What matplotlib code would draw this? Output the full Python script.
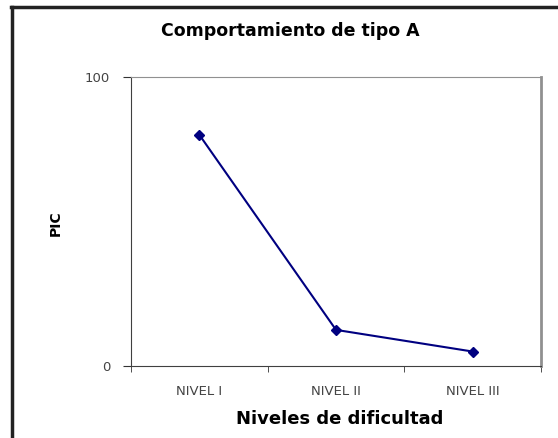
import matplotlib.pyplot as plt
from matplotlib.lines import Line2D

plt.rcParams['font.family'] = ['DejaVu Sans']

niveles = ['NIVEL I', 'NIVEL II', 'NIVEL III']
pic = [80, 12.5, 5]

fig = plt.figure(figsize=(5.58, 4.38), dpi=100)
ax = fig.add_axes([131/558, 1-366/438, 410/558, 289/438])

x = list(range(len(niveles)))
ax.plot(x, pic, color='#000080', lw=1.5, marker='D', ms=5.5)

ax.set_xlim(-0.5, len(niveles) - 0.5)
ax.set_ylim(0, 100)
ax.set_yticks([0, 100])
ax.set_yticklabels(['0', '100'], fontsize=9.5, color='#444444')
ax.set_xticks(x)
ax.set_xticklabels(niveles, fontsize=9.5, color='#444444')
ax.set_xticks([-0.5, 0.5, 1.5, 2.5], minor=True)
ax.tick_params(axis='x', which='major', length=0, pad=14)
ax.tick_params(axis='x', which='minor', length=4, color='#333333')
ax.tick_params(axis='y', length=6, color='#333333', pad=9)

ax.spines['left'].set_color('#404040')
ax.spines['bottom'].set_color('#404040')
ax.spines['top'].set_color('#909090')
ax.spines['right'].set_color('#909090')
ax.spines['right'].set_linewidth(2)

fig.text(340/558, 1-419/438, 'Niveles de dificultad', ha='center', va='center',
         fontsize=13, fontweight='bold')
fig.text(56/558, 1-223/438, 'PIC', ha='center', va='center', rotation=90,
         fontsize=10, fontweight='bold')
fig.text(290/558, 1-31/438, 'Comportamiento de tipo A', ha='center', va='center',
         fontsize=12.5, fontweight='bold')

# outer frame (top and left only)
fig.add_artist(Line2D([11/558, 1], [1-7/438, 1-7/438], color='#222222', lw=2.5))
fig.add_artist(Line2D([12/558, 12/558], [0, 1-7/438], color='#222222', lw=2.5))

fig.savefig('out.png', dpi=100)
